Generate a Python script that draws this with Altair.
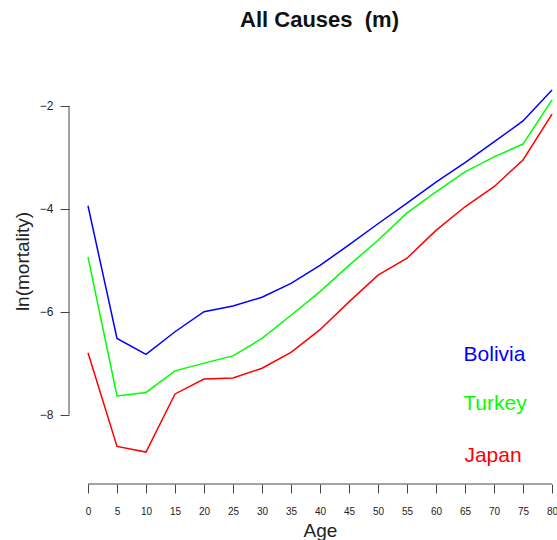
import altair as alt
import pandas as pd

ages = [0, 5, 10, 15, 20, 25, 30, 35, 40, 45, 50, 55, 60, 65, 70, 75, 80]
countries = ["Bolivia", "Turkey", "Japan"]
colors = ["#0000ff", "#00ff00", "#ff0000"]
bolivia = [-3.94, -6.52, -6.83, -6.39, -6.00, -5.89, -5.72, -5.45, -5.10, -4.70,
           -4.29, -3.89, -3.48, -3.10, -2.70, -2.29, -1.69]
turkey = [-4.94, -7.64, -7.57, -7.15, -7.00, -6.86, -6.52, -6.07, -5.61, -5.10,
          -4.61, -4.08, -3.67, -3.28, -2.99, -2.74, -1.88]
japan = [-6.80, -8.62, -8.73, -7.60, -7.31, -7.29, -7.10, -6.79, -6.35, -5.81,
         -5.29, -4.96, -4.42, -3.96, -3.57, -3.05, -2.16]
x_ticks = list(range(0, 81, 5))
y_ticks = [-8, -6, -4, -2]

rows = []
for c, vals in zip(countries, [bolivia, turkey, japan]):
    for a, v in zip(ages, vals):
        rows.append({"age": a, "lnm": v, "country": c})
df = pd.DataFrame(rows)

FONT = "Liberation Sans"
x_domain = [-3.276, 80.86]
y_domain = [-9.351, -1.203]
xs = alt.Scale(domain=x_domain, nice=False, zero=False)
ys = alt.Scale(domain=y_domain, nice=False, zero=False)

xaxis = alt.Axis(values=x_ticks, title="Age", domain=False, grid=False, tickSize=9,
                 tickColor="#444", labelFontSize=10, labelPadding=13, labelColor="#222",
                 labelFont=FONT, titleFont=FONT, titleFontSize=19, titleFontWeight="normal",
                 titleX=251, titleY=52, titleBaseline="alphabetic", titleAlign="center",
                 labelFlush=False, labelOverlap=False, titleColor="#222")
yaxis = alt.Axis(values=y_ticks, title="ln(mortality)", domain=False, grid=False, tickSize=9,
                 tickColor="#444", labelFontSize=12, labelPadding=7, labelColor="#222",
                 labelFont=FONT, titleFont=FONT, titleFontSize=19, titleFontWeight="normal",
                 titleX=-47, titleY=196, titleAngle=270, titleBaseline="middle",
                 titleAlign="center", labelFlush=False, titleColor="#222")

xenc = alt.X("age:Q", scale=xs, axis=xaxis)
yenc = alt.Y("lnm:Q", scale=ys, axis=yaxis)

lines = alt.Chart(df).mark_line(strokeWidth=1.5).encode(
    x=xenc, y=yenc,
    color=alt.Color("country:N", scale=alt.Scale(domain=countries, range=colors), legend=None),
)

xline = alt.Chart(pd.DataFrame({"age": [ages[0]], "age2": [ages[-1]], "lnm": [y_domain[0]]})).mark_rule(
    color="#444", strokeWidth=1).encode(x=xenc, x2="age2:Q", y=yenc)
yline = alt.Chart(pd.DataFrame({"age": [x_domain[0]], "lnm": [y_ticks[0]], "lnm2": [y_ticks[-1]]})).mark_rule(
    color="#444", strokeWidth=1).encode(x=xenc, y=yenc, y2="lnm2:Q")

legend_pos = [(425.5, 296), (426, 345), (424, 397)]
labels = []
for c, col, (px, py) in zip(countries, colors, legend_pos):
    labels.append(
        alt.Chart(pd.DataFrame({"country": [c]})).mark_text(
            font=FONT, fontSize=21, color=col, align="center", baseline="alphabetic"
        ).encode(text="country:N", x=alt.value(px), y=alt.value(py))
    )

chart = alt.layer(lines, xline, yline, *labels).properties(
    width=488, height=419,
    padding={"left": 69, "top": 65, "right": 0, "bottom": 56},
    autosize=alt.AutoSizeParams(type="none"),
    title=alt.TitleParams("All Causes \u00a0(m)", font=FONT, fontSize=22, fontWeight="bold",
                          anchor="middle", dx=6.5, offset=16, baseline="alphabetic", color="#111"),
).configure(background="white").configure_view(stroke=None)

chart.save("out.html", embed_options={"renderer": "svg", "actions": False})
